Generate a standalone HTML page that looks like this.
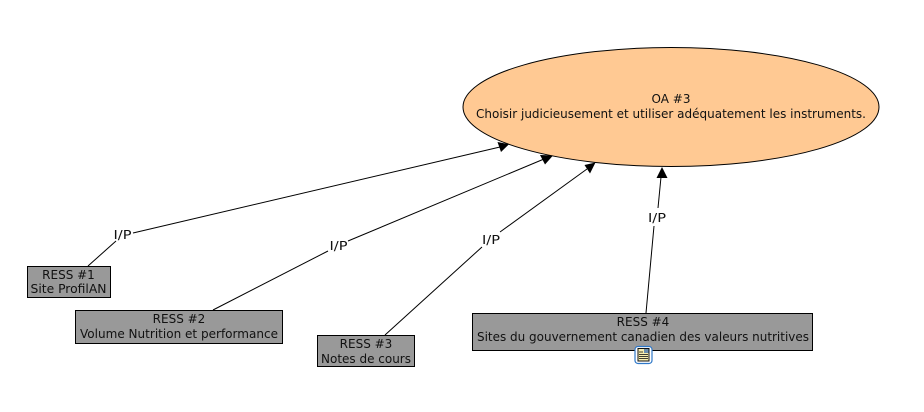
<!DOCTYPE html>
<html>
<head>
<meta charset="utf-8">
<style>
html,body{margin:0;padding:0;background:#fff;width:924px;height:412px;overflow:hidden}
svg{display:block}
text{font-family:"DejaVu Sans","Liberation Sans",sans-serif;font-size:12px;fill:#111;text-anchor:middle}
</style>
</head>
<body>
<svg width="924" height="412" viewBox="0 0 924 412" xmlns="http://www.w3.org/2000/svg">
<rect width="924" height="412" fill="#fff"/>
<ellipse cx="671" cy="107" rx="208" ry="59.5" fill="#ffc993" stroke="#000" stroke-width="1"/>
<g stroke="#000" stroke-width="1" fill="none">
<line x1="88" y1="266" x2="116" y2="241"/>
<line x1="133" y1="233" x2="500" y2="147"/>
<line x1="213" y1="310" x2="328" y2="251"/>
<line x1="348" y1="241" x2="544" y2="159"/>
<line x1="385" y1="335" x2="482" y2="247"/>
<line x1="500" y1="232" x2="587" y2="169"/>
<line x1="646" y1="313" x2="654" y2="226"/>
<line x1="658" y1="208" x2="661" y2="177"/>
</g>
<g fill="#000">
<polygon points="509,144.3 501,152 497.5,142"/>
<polygon points="553,155.5 545,164.5 540,155"/>
<polygon points="595.5,162.5 590,173.5 584.5,165"/>
<polygon points="662,167 667.5,178 656.5,178"/>
</g>
<g fill="#999" stroke="#000" stroke-width="1">
<rect x="27.5" y="266.5" width="83" height="31"/>
<rect x="75.5" y="310.5" width="207" height="33"/>
<rect x="317.5" y="335.5" width="97" height="31"/>
<rect x="472.5" y="313.5" width="340" height="37"/>
</g>
<text x="671" y="103">OA #3</text>
<text x="671" y="118" textLength="390" lengthAdjust="spacingAndGlyphs">Choisir judicieusement et utiliser adéquatement les instruments.</text>
<text x="68.5" y="279">RESS #1</text>
<text x="68.5" y="293" textLength="76" lengthAdjust="spacingAndGlyphs">Site ProfilAN</text>
<text x="179" y="323">RESS #2</text>
<text x="179" y="338" textLength="198" lengthAdjust="spacingAndGlyphs">Volume Nutrition et performance</text>
<text x="366" y="348">RESS #3</text>
<text x="366" y="363" textLength="90" lengthAdjust="spacingAndGlyphs">Notes de cours</text>
<text x="643" y="326">RESS #4</text>
<text x="643" y="341" textLength="332" lengthAdjust="spacingAndGlyphs">Sites du gouvernement canadien des valeurs nutritives</text>
<text x="122.5" y="239" textLength="18" lengthAdjust="spacingAndGlyphs">I/P</text>
<text x="338.5" y="250" textLength="18" lengthAdjust="spacingAndGlyphs">I/P</text>
<text x="491" y="244" textLength="18" lengthAdjust="spacingAndGlyphs">I/P</text>
<text x="657" y="222" textLength="18" lengthAdjust="spacingAndGlyphs">I/P</text>
<rect x="635" y="346.5" width="17" height="17" rx="3" fill="#fff" stroke="#2f78c8" stroke-width="1.2"/>
<rect x="638" y="348.5" width="11" height="12.5" fill="#f8efb0" stroke="#111" stroke-width="1"/>
<g stroke="#111" stroke-width="0.8">
<line x1="639" y1="352" x2="643" y2="352"/>
<line x1="639" y1="354.5" x2="648" y2="354.5"/>
<line x1="639" y1="356.5" x2="648" y2="356.5"/>
<line x1="639" y1="358.5" x2="648" y2="358.5"/>
</g>
<rect x="644" y="349" width="4.5" height="4" fill="#6b8fb0"/>
</svg>
</body>
</html>
